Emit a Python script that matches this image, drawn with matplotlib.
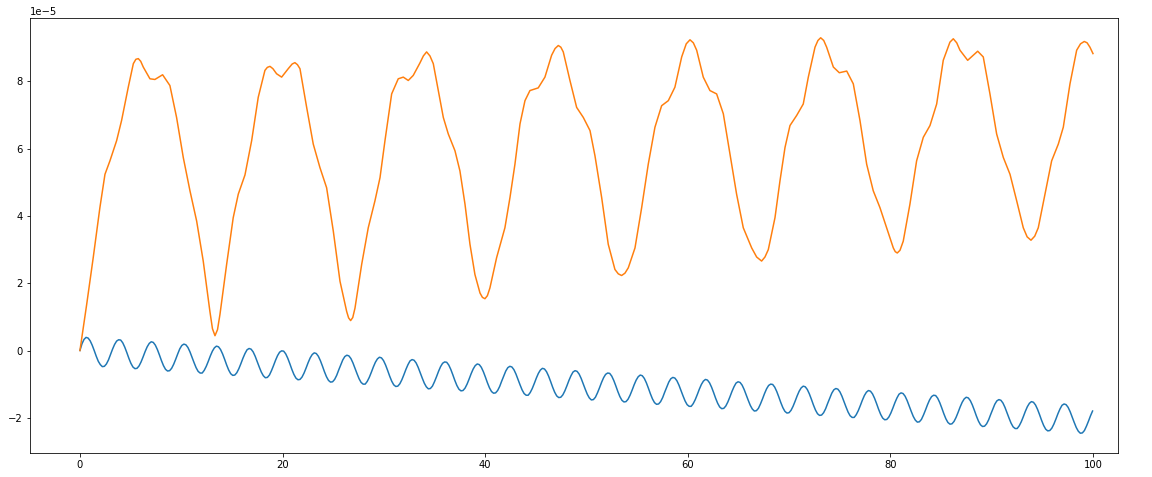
import numpy as np
import matplotlib.pyplot as plt

# values, in units of 1e-5
# blue: one row per oscillation, 16 samples each
blue_vals = [
    0.00, 0.20, 0.33, 0.39, 0.37, 0.29, 0.16, 0.00, -0.17, -0.32, -0.42, -0.48, -0.47, -0.40, -0.28, -0.12,
    0.04, 0.18, 0.28, 0.32, 0.31, 0.23, 0.10, -0.06, -0.23, -0.38, -0.49, -0.54, -0.53, -0.46, -0.34, -0.19,
    -0.03, 0.11, 0.21, 0.26, 0.24, 0.16, 0.03, -0.13, -0.30, -0.45, -0.56, -0.61, -0.60, -0.53, -0.41, -0.26,
    -0.10, 0.05, 0.15, 0.19, 0.17, 0.09, -0.04, -0.20, -0.36, -0.51, -0.62, -0.67, -0.67, -0.59, -0.47, -0.32,
    -0.16, -0.02, 0.08, 0.13, 0.11, 0.03, -0.10, -0.26, -0.43, -0.58, -0.69, -0.74, -0.73, -0.66, -0.54, -0.39,
    -0.23, -0.09, 0.02, 0.06, 0.04, -0.04, -0.17, -0.33, -0.49, -0.64, -0.75, -0.81, -0.80, -0.73, -0.60, -0.45,
    -0.29, -0.15, -0.05, -0.01, -0.02, -0.10, -0.23, -0.39, -0.56, -0.71, -0.82, -0.87, -0.86, -0.79, -0.67, -0.52,
    -0.36, -0.22, -0.12, -0.07, -0.09, -0.17, -0.30, -0.46, -0.63, -0.78, -0.89, -0.94, -0.93, -0.86, -0.74, -0.58,
    -0.43, -0.28, -0.18, -0.14, -0.16, -0.24, -0.37, -0.53, -0.69, -0.84, -0.95, -1.00, -1.00, -0.92, -0.80, -0.65,
    -0.49, -0.35, -0.25, -0.20, -0.22, -0.30, -0.43, -0.59, -0.76, -0.91, -1.02, -1.07, -1.06, -0.99, -0.87, -0.72,
    -0.56, -0.42, -0.31, -0.27, -0.29, -0.37, -0.50, -0.66, -0.82, -0.97, -1.08, -1.14, -1.13, -1.06, -0.93, -0.78,
    -0.62, -0.48, -0.38, -0.34, -0.35, -0.43, -0.56, -0.72, -0.89, -1.04, -1.15, -1.20, -1.19, -1.12, -1.00, -0.85,
    -0.69, -0.55, -0.45, -0.40, -0.42, -0.50, -0.63, -0.79, -0.96, -1.11, -1.22, -1.27, -1.26, -1.19, -1.07, -0.91,
    -0.76, -0.61, -0.51, -0.47, -0.49, -0.57, -0.70, -0.86, -1.02, -1.17, -1.28, -1.33, -1.33, -1.25, -1.13, -0.98,
    -0.82, -0.68, -0.58, -0.53, -0.55, -0.63, -0.76, -0.92, -1.09, -1.24, -1.35, -1.40, -1.39, -1.32, -1.20, -1.05,
    -0.89, -0.75, -0.64, -0.60, -0.62, -0.70, -0.83, -0.99, -1.15, -1.30, -1.41, -1.47, -1.46, -1.39, -1.26, -1.11,
    -0.95, -0.81, -0.71, -0.67, -0.68, -0.76, -0.89, -1.05, -1.22, -1.37, -1.48, -1.53, -1.52, -1.45, -1.33, -1.18,
    -1.02, -0.88, -0.78, -0.73, -0.75, -0.83, -0.96, -1.12, -1.29, -1.44, -1.55, -1.60, -1.59, -1.52, -1.40, -1.24,
    -1.09, -0.94, -0.84, -0.80, -0.82, -0.90, -1.03, -1.19, -1.35, -1.50, -1.61, -1.66, -1.66, -1.58, -1.46, -1.31,
    -1.15, -1.01, -0.91, -0.86, -0.88, -0.96, -1.09, -1.25, -1.42, -1.57, -1.68, -1.73, -1.72, -1.65, -1.53, -1.38,
    -1.22, -1.08, -0.97, -0.93, -0.95, -1.03, -1.16, -1.32, -1.48, -1.63, -1.74, -1.80, -1.79, -1.72, -1.59, -1.44,
    -1.28, -1.14, -1.04, -1.00, -1.01, -1.09, -1.22, -1.38, -1.55, -1.70, -1.81, -1.86, -1.85, -1.78, -1.66, -1.51,
    -1.35, -1.21, -1.11, -1.06, -1.08, -1.16, -1.29, -1.45, -1.62, -1.77, -1.88, -1.93, -1.92, -1.85, -1.73, -1.57,
    -1.42, -1.27, -1.17, -1.13, -1.15, -1.23, -1.36, -1.52, -1.68, -1.83, -1.94, -1.99, -1.99, -1.91, -1.79, -1.64,
    -1.48, -1.34, -1.24, -1.19, -1.21, -1.29, -1.42, -1.58, -1.75, -1.90, -2.01, -2.06, -2.05, -1.98, -1.86, -1.71,
    -1.55, -1.41, -1.30, -1.26, -1.28, -1.36, -1.49, -1.65, -1.81, -1.96, -2.07, -2.13, -2.12, -2.05, -1.92, -1.77,
    -1.61, -1.47, -1.37, -1.33, -1.34, -1.42, -1.55, -1.71, -1.88, -2.03, -2.14, -2.19, -2.18, -2.11, -1.99, -1.84,
    -1.68, -1.54, -1.44, -1.39, -1.41, -1.49, -1.62, -1.78, -1.95, -2.10, -2.21, -2.26, -2.25, -2.18, -2.06, -1.90,
    -1.75, -1.60, -1.50, -1.46, -1.48, -1.56, -1.69, -1.85, -2.01, -2.16, -2.27, -2.32, -2.32, -2.24, -2.12, -1.97,
    -1.81, -1.67, -1.57, -1.52, -1.54, -1.62, -1.75, -1.91, -2.08, -2.23, -2.34, -2.39, -2.38, -2.31, -2.19, -2.04,
    -1.88, -1.74, -1.63, -1.59, -1.61, -1.69, -1.82, -1.98, -2.14, -2.29, -2.40, -2.46, -2.45, -2.38, -2.25, -2.10,
    -1.94, -1.80,
]
# evenly spaced samples in time
blue_t = np.arange(len(blue_vals)) * 0.201125

orange_t = [
    0.0, 0.66, 1.31, 1.97, 2.47, 2.96, 3.62, 4.11, 4.77, 5.27, 5.52, 5.76, 6.00, 6.25,
    6.91, 7.40, 8.16, 8.88, 9.54, 10.20, 10.86, 11.52, 12.17, 12.83, 13.08, 13.33, 13.58,
    13.82, 14.48, 15.13, 15.63, 16.29, 16.95, 17.60, 18.26, 18.50, 18.76, 19.05, 19.41,
    19.91, 20.56, 20.95, 21.22, 21.47, 21.72, 22.38, 23.03, 23.69, 24.35, 25.01, 25.67,
    26.33, 26.52, 26.72, 26.93, 27.15, 27.81, 28.46, 29.12, 29.62, 30.11, 30.77, 31.42,
    31.92, 32.41, 32.90, 33.56, 33.90, 34.22, 34.55, 34.88, 35.37, 35.87, 36.36, 37.02,
    37.51, 38.01, 38.50, 38.99, 39.49, 39.73, 39.98, 40.22, 40.47, 41.13, 41.95, 42.45,
    42.94, 43.44, 43.93, 44.42, 45.24, 45.90, 46.56, 46.90, 47.22, 47.47, 47.71, 48.37,
    49.03, 49.69, 50.35, 50.84, 51.50, 52.15, 52.81, 53.14, 53.47, 53.80, 54.13, 54.79,
    55.45, 56.10, 56.76, 57.42, 58.08, 58.73, 59.40, 59.85, 60.22, 60.55, 60.88, 61.53,
    62.19, 62.85, 63.51, 64.17, 64.82, 65.48, 66.31, 66.80, 67.29, 67.62, 67.95, 68.61,
    69.10, 69.60, 70.09, 70.75, 71.40, 71.90, 72.56, 72.85, 73.12, 73.42, 73.71, 74.37,
    74.96, 75.69, 76.34, 77.00, 77.66, 78.31, 78.97, 79.63, 80.29, 80.48, 80.68, 80.95,
    81.27, 81.93, 82.59, 83.25, 83.91, 84.57, 85.22, 85.88, 86.21, 86.55, 86.87,
    87.63, 88.62, 89.17, 89.83, 90.49, 91.15, 91.81, 92.47, 93.12, 93.50, 93.88, 94.25,
    94.60, 95.26, 95.92, 96.58, 97.07, 97.73, 98.39, 98.77, 99.14, 99.42, 99.70, 100.0,
]
orange_vals = [
    0.00, 1.36, 2.76, 4.25, 5.24, 5.64, 6.24, 6.84, 7.83, 8.53, 8.66, 8.68, 8.60, 8.43,
    8.08, 8.06, 8.20, 7.88, 6.93, 5.74, 4.75, 3.85, 2.66, 1.16, 0.65, 0.44, 0.62,
    1.07, 2.56, 3.95, 4.65, 5.22, 6.24, 7.53, 8.33, 8.42, 8.45, 8.38, 8.23,
    8.13, 8.38, 8.52, 8.56, 8.50, 8.38, 7.23, 6.14, 5.44, 4.84, 3.55, 2.06,
    1.16, 0.97, 0.89, 0.98, 1.26, 2.56, 3.65, 4.45, 5.14, 6.24, 7.63, 8.08,
    8.13, 8.03, 8.18, 8.55, 8.76, 8.88, 8.76, 8.53, 7.73, 6.93, 6.44, 5.94,
    5.34, 4.35, 3.16, 2.26, 1.71, 1.58, 1.54, 1.63, 1.86, 2.76, 3.65, 4.55,
    5.54, 6.74, 7.43, 7.73, 7.81, 8.13, 8.78, 8.98, 9.07, 9.02, 8.88, 8.03,
    7.23, 6.93, 6.54, 5.79, 4.55, 3.16, 2.41, 2.28, 2.23, 2.30, 2.46, 3.05,
    4.25, 5.54, 6.64, 7.28, 7.43, 7.83, 8.73, 9.12, 9.24, 9.15, 8.93, 8.13,
    7.73, 7.63, 7.04, 5.84, 4.65, 3.65, 3.05, 2.78, 2.66, 2.78, 3.00, 3.95,
    5.04, 6.04, 6.69, 6.99, 7.33, 8.13, 9.02, 9.22, 9.30, 9.22, 9.02, 8.43,
    8.26, 8.31, 7.93, 6.84, 5.54, 4.75, 4.25, 3.65, 3.05, 2.94, 2.90, 2.98,
    3.25, 4.35, 5.64, 6.34, 6.69, 7.33, 8.63, 9.17, 9.27, 9.15, 8.93,
    8.63, 8.90, 8.73, 7.63, 6.44, 5.74, 5.24, 4.45, 3.65, 3.38, 3.28, 3.40,
    3.65, 4.65, 5.64, 6.14, 6.64, 7.93, 8.93, 9.12, 9.19, 9.15, 9.02, 8.83,
]

fig = plt.figure(figsize=(16, 6.625), dpi=72)
ax = fig.add_subplot(111)
fig.subplots_adjust(left=30/1152, right=1118/1152, top=1-18/477, bottom=1-453/477)

ax.plot(blue_t, np.array(blue_vals) * 1e-5)
ax.plot(orange_t, np.array(orange_vals) * 1e-5)
ax.set_xlim(-4.93, 102.47)

fig.savefig("out.png", dpi=72)
